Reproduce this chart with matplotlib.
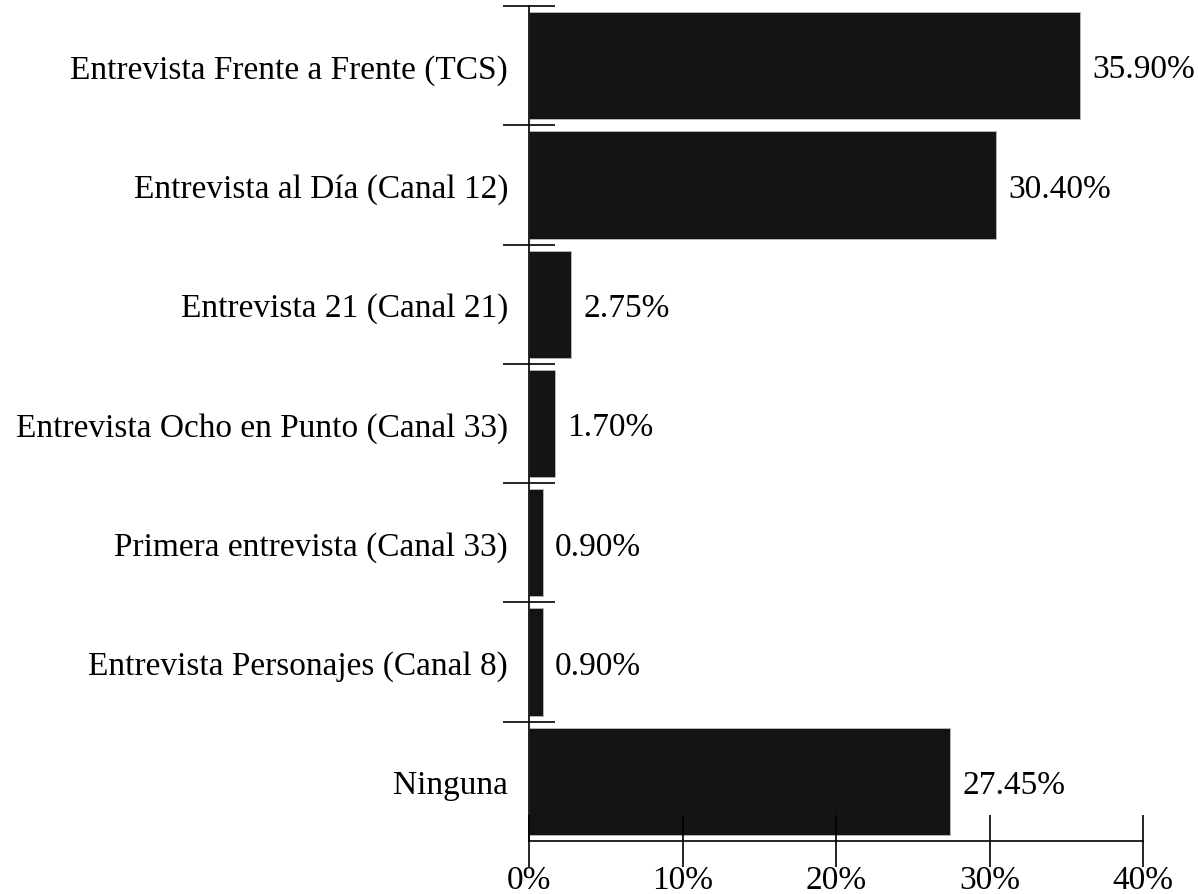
import numpy as np
import matplotlib.pyplot as plt
from matplotlib.ticker import FixedLocator

categorias = [
    'Entrevista Frente a Frente (TCS)',
    'Entrevista al Día (Canal 12)',
    'Entrevista 21 (Canal 21)',
    'Entrevista Ocho en Punto (Canal 33)',
    'Primera entrevista (Canal 33)',
    'Entrevista Personajes (Canal 8)',
    'Ninguna',
]
valores = [35.90, 30.40, 2.75, 1.70, 0.90, 0.90, 27.45]
x_ticks = [0, 10, 20, 30, 40]
x_labels = ['0%', '10%', '20%', '30%', '40%']

plt.rcParams['font.family'] = ['Liberation Serif', 'DejaVu Serif']
fs = 24

fig = plt.figure(figsize=(11.98, 8.95), dpi=100)
ax = fig.add_axes([529 / 1198, 1 - 842 / 895, (1143 - 529) / 1198, (842 - 7) / 895])

y = np.arange(len(categorias))
ax.barh(y, valores, height=0.9, color='#141414', edgecolor='#bbbbbb', linewidth=0.6)

# etiquetas de valor
for yi, v in zip(y, valores):
    ax.text(v + 0.8, yi, f'{v:.2f}%', va='center_baseline', ha='left', fontsize=fs)

ax.set_xlim(0, 40)
ax.set_ylim(len(categorias) - 0.5, -0.5)

ax.set_yticks(y)
ax.set_yticklabels(categorias, fontsize=fs)
ax.tick_params(axis='y', which='major', length=0, pad=15)
# marcas entre categorias (sin la de abajo)
ax.yaxis.set_minor_locator(FixedLocator(np.arange(-0.5, len(categorias) - 1, 1.0)))
ax.tick_params(axis='y', which='minor', direction='inout', length=37, width=1.2)

ax.set_xticks(x_ticks)
ax.set_xticklabels(x_labels, fontsize=fs)
ax.tick_params(axis='x', direction='inout', length=37, width=1.2, pad=-1.5)

for s in ['top', 'right']:
    ax.spines[s].set_visible(False)
for s in ['left', 'bottom']:
    ax.spines[s].set_linewidth(1.2)

fig.savefig('out.png', dpi=100)
